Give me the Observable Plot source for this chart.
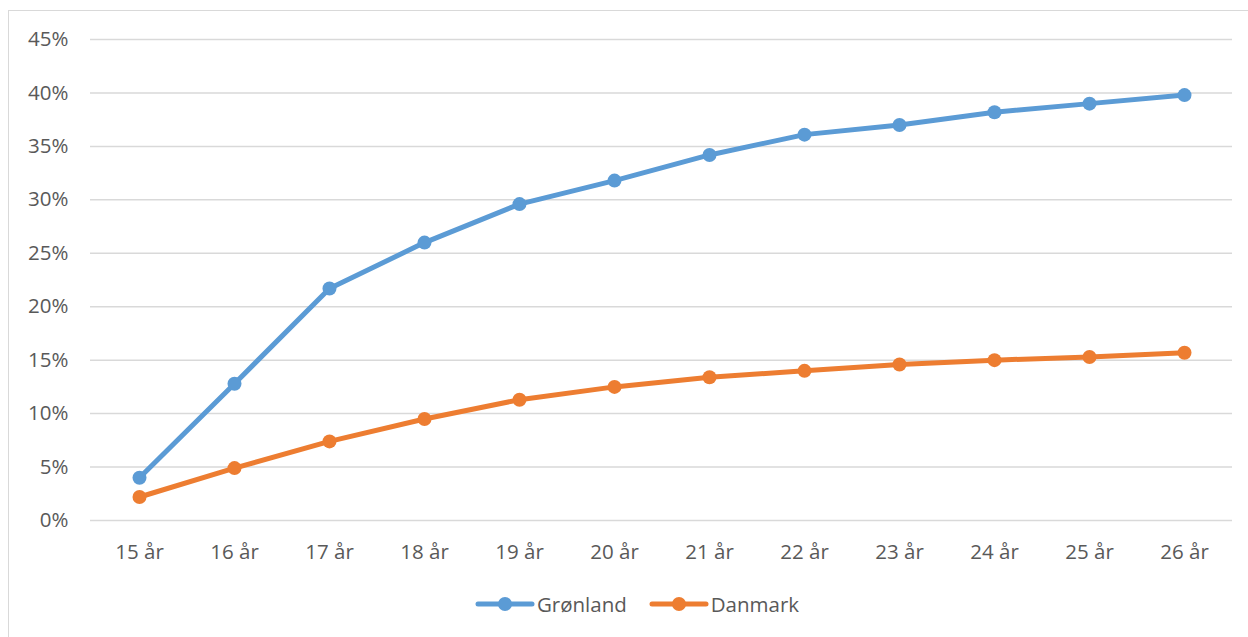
<!DOCTYPE html>
<html>
<head>
<meta charset="utf-8">
<script src="https://cdn.jsdelivr.net/npm/d3@7"></script>
<script src="https://cdn.jsdelivr.net/npm/@observablehq/plot@0.6"></script>
<style>
  html, body { margin: 0; padding: 0; background: #fff; overflow: hidden; }
  body { width: 1248px; height: 637px; position: relative; font-family: "Open Sans", Lato, sans-serif; }
  #frame { position: absolute; left: 8px; top: 10px; width: 1260px; height: 660px; border: 1.5px solid #d9d9d9; box-sizing: border-box; }
  #chart { position: absolute; left: 0; top: 0; }
  #legend { position: absolute; top: 590px; left: 0; width: 1248px; display: flex; justify-content: center; gap: 22px; font-size: 20.5px; color: #595959; padding-left: 26px; box-sizing: border-box; }
  .item { display: flex; align-items: center; }
  .item svg { margin-right: 2px; }
</style>
</head>
<body>
<div id="frame"></div>
<div id="chart"></div>
<div id="legend"></div>
<script>
const ages = ["15 år","16 år","17 år","18 år","19 år","20 år","21 år","22 år","23 år","24 år","25 år","26 år"];
const gronland = [4.0, 12.8, 21.7, 26.0, 29.6, 31.8, 34.2, 36.1, 37.0, 38.2, 39.0, 39.8];
const danmark = [2.2, 4.9, 7.4, 9.5, 11.3, 12.5, 13.4, 14.0, 14.6, 15.0, 15.3, 15.7];
const seriesNames = ["Grønland", "Danmark"];
const colors = ["#5b9bd5", "#ed7d31"];
const yTicks = [0, 5, 10, 15, 20, 25, 30, 35, 40, 45];

const data = [];
[gronland, danmark].forEach((vals, si) => {
  vals.forEach((v, i) => data.push({age: ages[i], value: v, series: seriesNames[si]}));
});

const plot = Plot.plot({
  width: 1248,
  height: 575,
  marginLeft: 90,
  marginRight: 16,
  marginTop: 39,
  marginBottom: 55,
  style: {fontFamily: "'Open Sans', Lato, sans-serif", fontSize: "20.5px", color: "#595959", background: "transparent"},
  x: {type: "point", domain: ages, padding: 0.5, label: null},
  y: {domain: [0, 45], label: null},
  color: {domain: seriesNames, range: colors},
  marks: [
    Plot.ruleY(yTicks, {stroke: "#d9d9d9", strokeWidth: 1.5}),
    Plot.axisY({ticks: yTicks, tickSize: 0, tickPadding: 22, tickFormat: d => d + "%", fill: "#595959", fontSize: 20.5}),
    Plot.axisX({tickSize: 0, tickPadding: 24, fill: "#595959", fontSize: 20.5}),
    Plot.line(data, {x: "age", y: "value", stroke: "series", strokeWidth: 5, strokeLinecap: "round", strokeLinejoin: "round"}),
    Plot.dot(data, {x: "age", y: "value", fill: "series", r: 7, stroke: null})
  ]
});
document.getElementById("chart").appendChild(plot);

const legend = document.getElementById("legend");
seriesNames.forEach((name, i) => {
  const item = document.createElement("div");
  item.className = "item";
  item.innerHTML = `<svg width="60" height="16"><line x1="3" y1="8" x2="57" y2="8" stroke="${colors[i]}" stroke-width="5" stroke-linecap="round"/><circle cx="30" cy="8" r="7" fill="${colors[i]}"/></svg><span>${name}</span>`;
  legend.appendChild(item);
});
</script>
</body>
</html>
